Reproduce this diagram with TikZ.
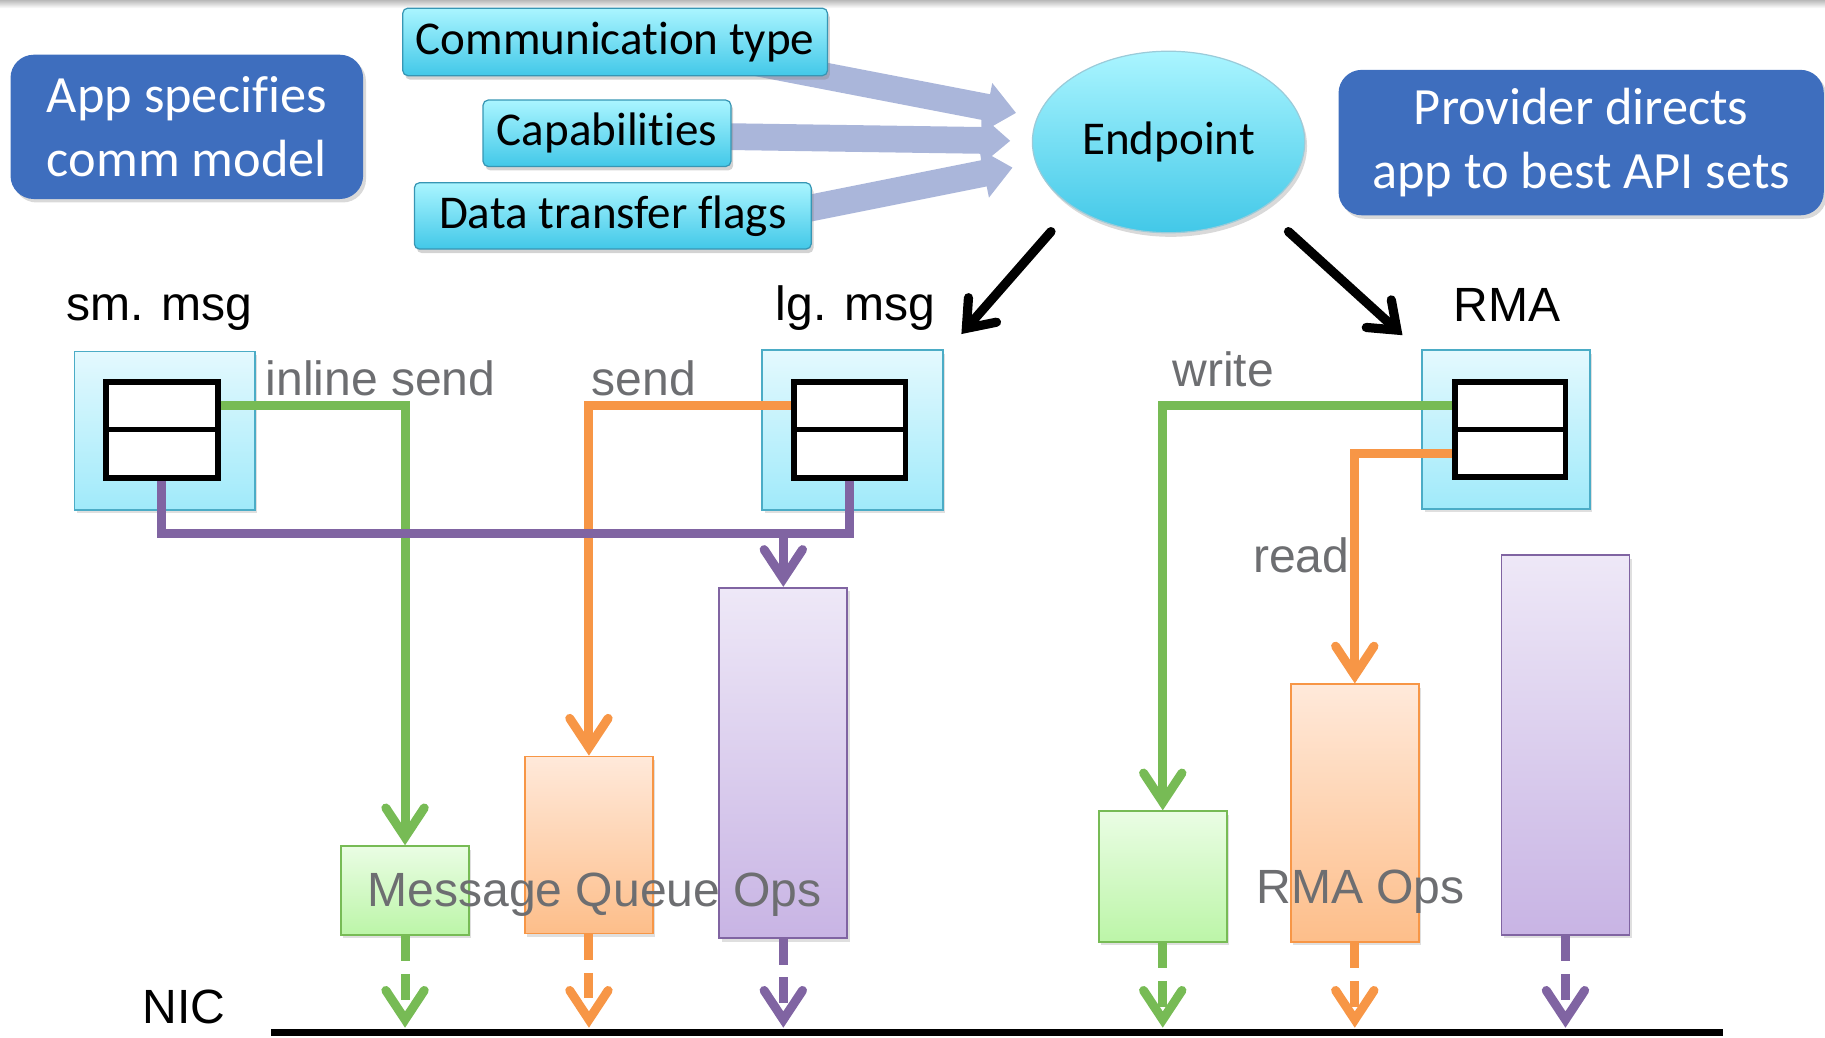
\documentclass[tikz,border=0pt]{standalone}
\usepackage{fontspec}
\newfontfamily\calfont[Ligatures=NoCommon]{Carlito}
\newfontfamily\arifont{Liberation Sans}
\usetikzlibrary{arrows.meta,shadows,fit,calc,shapes.geometric}
\definecolor{glinec}{RGB}{119,187,85}
\definecolor{olinec}{RGB}{247,150,70}
\definecolor{plinec}{RGB}{128,100,162}
\definecolor{blueboxc}{RGB}{62,110,190}
\definecolor{arrowblue}{RGB}{170,182,218}
\definecolor{graytxt}{RGB}{109,110,113}
\definecolor{cyantop}{RGB}{170,245,255}
\definecolor{cyanbot}{RGB}{66,200,232}
\definecolor{cyanedge}{RGB}{55,150,180}
\definecolor{qtop}{RGB}{228,249,254}
\definecolor{qbot}{RGB}{160,234,250}
\definecolor{qedge}{RGB}{75,172,198}
\definecolor{gtop}{RGB}{234,253,228}
\definecolor{gbot}{RGB}{188,245,168}
\definecolor{otop}{RGB}{255,233,218}
\definecolor{obot}{RGB}{253,190,138}
\definecolor{ptop}{RGB}{238,232,247}
\definecolor{pbot}{RGB}{200,180,228}
\begin{document}
\begin{tikzpicture}[x=0.02cm,y=-0.02cm,
  bluebx/.style={rounded corners=0.4cm, fill=blueboxc, text=white, inner sep=0,
    font=\calfont\fontsize{25.6}{31}\selectfont, align=center,
    drop shadow={shadow xshift=0.05cm, shadow yshift=-0.06cm, opacity=0.3}},
  cyanbx/.style={rounded corners=2.5pt, top color=cyantop, bottom color=cyanbot, draw=cyanedge,
    line width=0.6pt, inner sep=0, font=\calfont\fontsize{23}{28}\selectfont,
    drop shadow={shadow xshift=0.04cm, shadow yshift=-0.07cm, opacity=0.35}},
  qbox/.style={top color=qtop, bottom color=qbot, draw=qedge, line width=0.9pt, inner sep=0,
    drop shadow={shadow xshift=0.04cm, shadow yshift=-0.06cm, opacity=0.25}},
  cell/.style={draw=black, line width=2.8pt, fill=white, inner sep=0},
  gbox/.style={top color=gtop, bottom color=gbot, draw=glinec, line width=0.9pt, inner sep=0,
    drop shadow={shadow xshift=0.04cm, shadow yshift=-0.06cm, opacity=0.25}},
  obox/.style={top color=otop, bottom color=obot, draw=olinec, line width=0.9pt, inner sep=0,
    drop shadow={shadow xshift=0.04cm, shadow yshift=-0.06cm, opacity=0.25}},
  pbox/.style={top color=ptop, bottom color=pbot, draw=plinec, line width=0.9pt, inner sep=0,
    drop shadow={shadow xshift=0.04cm, shadow yshift=-0.06cm, opacity=0.25}},
  conn/.style={line width=4.4pt, line join=miter},
  tip/.style={-{Straight Barb[length=0.5cm,width=0.66cm,line cap=round,line join=miter]}},
  dashconn/.style={conn, tip, dash pattern=on 0.44cm off 0.22cm},
  wide/.style={draw=arrowblue, line width=0.46cm, -{Triangle[length=0.5cm,width=0.82cm]}},
  blk/.style={line width=4.5pt, line cap=round, -{Straight Barb[length=0.42cm,width=0.64cm,line cap=round,line join=miter]}},
  lbl/.style={font=\arifont\fontsize{23.5}{28}\selectfont, inner sep=0, anchor=base},
  glbl/.style={lbl, text=graytxt},
]
\useasboundingbox (0,0) rectangle (1568,891);
\shade[top color=gray!55, bottom color=white] (0,0) rectangle (1568,7);

% wide blue arrows (behind the boxes)
\draw[wide] (640,52) -- (873,97);
\draw[wide] (600,117) -- (868,121);
\draw[wide] (660,186) -- (870,144);

% top boxes
\node[bluebx, minimum width=6.06cm, minimum height=2.48cm] (app) at (160.5,109) {App specifies\\comm model};
\node[bluebx, minimum width=8.34cm, minimum height=2.5cm] (prov) at (1358.5,122.5) {Provider directs\\app to best API sets};
\node[cyanbx, minimum width=7.3cm, minimum height=1.16cm] (ct) at (528.5,36) {Communication type};
\node[cyanbx, minimum width=4.26cm, minimum height=1.14cm] (cap) at (521.5,114.5) {Capabilities};
\node[cyanbx, minimum width=6.82cm, minimum height=1.14cm] (dtf) at (526.5,185.5) {Data transfer flags};
\node[ellipse, minimum width=4.68cm, minimum height=3.12cm, inner sep=0,
  top color=cyantop, bottom color=cyanbot, draw=cyanedge!50, line width=0.6pt,
  font=\calfont\fontsize{23}{28}\selectfont,
  drop shadow={shadow xshift=0.04cm, shadow yshift=-0.07cm, opacity=0.3}] (ep) at (1004,122) {Endpoint};

% labels
\node[lbl] (smlbl) at (137,275) {sm. msg};
\node[lbl] (lglbl) at (735,275) {lg. msg};
\node[lbl] (rmalbl) at (1295,276) {RMA};
\node[lbl] (niclbl) at (158,879) {NIC};

% black arrows
\coordinate (lgtip) at (826,287);
\coordinate (rmatip) at (1205,288);
\draw[blk] ($(ep.center)+(-101,77)$) -- (lgtip);
\draw[blk] ($(ep.center)+(103,77)$) -- (rmatip);

% queue boxes
\node[qbox, fit={(64,302)(219,438)}] (smq) {};
\node[cell, fit={(91,328)(187,369)}] (smt) {};
\node[cell, fit={(91,369)(187,411)}] (smb) {};
\node[qbox, fit={(655,301)(810,438)}] (lgq) {};
\node[cell, fit={(682,328)(778,369)}] (lgt) {};
\node[cell, fit={(682,369)(778,411)}] (lgb) {};
\node[qbox, fit={(1222,301)(1366,437)}] (rmq) {};
\node[cell, fit={(1250,328)(1345,369)}] (rmt) {};
\node[cell, fit={(1250,369)(1345,410)}] (rmb) {};

% ops boxes
\node[gbox, fit={(293,727)(403,803)}] (mq1) {};
\node[obox, fit={(451,650)(561,802)}] (mq2) {};
\node[pbox, fit={(618,505)(728,806)}] (mq3) {};
\node[gbox, fit={(944,697)(1054,809)}] (rm1) {};
\node[obox, fit={(1109,588)(1219,809)}] (rm2) {};
\node[pbox, fit={(1290,477)(1400,803)}] (rm3) {};

% connector labels
\node[glbl] (inl) at (327,340) {inline send};
\node[glbl] (snd) at (553,340) {send};
\node[glbl] (wrt) at (1051,332) {write};
\node[glbl] (rd) at (1118,492) {read};

% connectors
\coordinate (pbus) at (0,458);
\coordinate (nictop) at (0,883);
\draw[conn, glinec, tip] (smt.east) -| (mq1.north);
\draw[conn, olinec, tip] (lgt.west) -| (mq2.north);
\draw[conn, plinec] (smb.south) -- (smb.south |- pbus) -- (lgb.south |- pbus) -- (lgb.south);
\draw[conn, plinec, tip] (mq3.north |- pbus) -- (mq3.north);
\draw[conn, glinec, tip] (rmt.west) -| (rm1.north);
\draw[conn, olinec, tip] (rmb.west) -| (rm2.north);

% dashed to NIC
\draw[dashconn, glinec] (mq1.south) -- (mq1.south |- nictop);
\draw[dashconn, olinec] (mq2.south) -- (mq2.south |- nictop);
\draw[dashconn, plinec] (mq3.south) -- (mq3.south |- nictop);
\draw[dashconn, glinec] (rm1.south) -- (rm1.south |- nictop);
\draw[dashconn, olinec] (rm2.south) -- (rm2.south |- nictop);
\draw[dashconn, plinec] (rm3.south) -- (rm3.south |- nictop);

% NIC line
\coordinate (nicL) at (233,887);
\coordinate (nicR) at (1480,887);
\draw[line width=3.8pt] (nicL) -- (nicR);

% group labels on top
\node[glbl] (mqops) at (511,779) {Message Queue Ops};
\node[glbl] (rmops) at (1169,776) {RMA Ops};
\end{tikzpicture}
\end{document}
